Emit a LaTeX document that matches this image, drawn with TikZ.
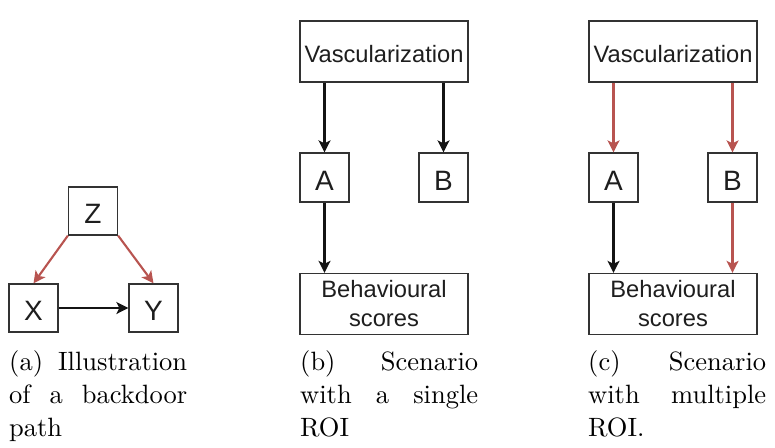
\documentclass[tikz,border=0pt]{standalone}
\usepackage{fontspec}
\newfontfamily\boxfont{Liberation Sans}
\newfontfamily\capfont{lmroman10-regular}[Extension=.otf]
\usetikzlibrary{arrows.meta}
\definecolor{redarr}{HTML}{B85450}
\definecolor{boxline}{HTML}{333333}
\definecolor{boxtext}{HTML}{1E1E1E}
\tikzset{
  box/.style={draw=boxline, line width=1.3pt, fill=white, inner sep=0pt, text=boxtext, font=\boxfont\fontsize{23.7}{29}\selectfont, align=center},
  letterbox/.style={box, minimum width=49pt, minimum height=48pt, text height=25pt, text depth=0pt, font=\boxfont\fontsize{28}{30}\selectfont},
  widebox/.style={box, minimum width=168pt, minimum height=61pt},
  arr/.style={draw=black!92, line width=2.1pt, -{Stealth[length=12pt,width=12pt,inset=3pt]}},
  redarrow/.style={arr, draw=redarr, -{Stealth[length=12pt,width=12pt,inset=3pt,color=redarr]}},
  caption/.style={anchor=north west, inner sep=0pt, text width=178pt, align=left, font=\capfont\fontsize{26.5}{33}\selectfont}
}
\begin{document}
\begin{tikzpicture}[x=1pt,y=-1pt]
\useasboundingbox (0,0) rectangle (775,447);
% (a)
\node[letterbox] (Z) at (93,211) {Z};
\node[letterbox] (X) at (33.5,308) {X};
\node[letterbox] (Y) at (153.5,308) {Y};
\draw[redarrow] (Z.south west) -- (X.north);
\draw[redarrow] (Z.south east) -- (Y.north);
\draw[arr] (X) -- (Y);
% (b)
\node[widebox, text height=21.8pt, text depth=0pt] (Vb) at (384,51.5) {Vascularization};
\node[letterbox, minimum height=49pt] (Ab) at (324.5,177.5) {A};
\node[letterbox, minimum height=49pt] (Bb) at (443.5,177.5) {B};
\node[widebox] (Hb) at (384,304) {Behavioural\\scores};
\draw[arr] (Vb.south -| Ab) -- (Ab.north);
\draw[arr] (Vb.south -| Bb) -- (Bb.north);
\draw[arr] (Ab.south) -- (Hb.north -| Ab);
% (c)
\node[widebox, text height=21.8pt, text depth=0pt] (Vc) at (673,51.5) {Vascularization};
\node[letterbox, minimum height=49pt] (Ac) at (613.5,177.5) {A};
\node[letterbox, minimum height=49pt] (Bc) at (732.5,177.5) {B};
\node[widebox] (Hc) at (673,304) {Behavioural\\scores};
\draw[redarrow] (Vc.south -| Ac) -- (Ac.north);
\draw[redarrow] (Vc.south -| Bc) -- (Bc.north);
\draw[arr] (Ac.south) -- (Hc.north -| Ac);
\draw[redarrow] (Bc.south) -- (Hc.north -| Bc);
% captions
\node[caption] (ca) at (9,350.5) {(a)\hfill Illustration\\of\hfill a\hfill backdoor\\path};
\node[caption] (cb) at (300,350.5) {(b)\hfill Scenario\\with\hfill a\hfill single\\ROI};
\node[caption] (cc) at (588,350.5) {(c)\hfill Scenario\\with\hfill multiple\\ROI.};
\end{tikzpicture}
\end{document}
